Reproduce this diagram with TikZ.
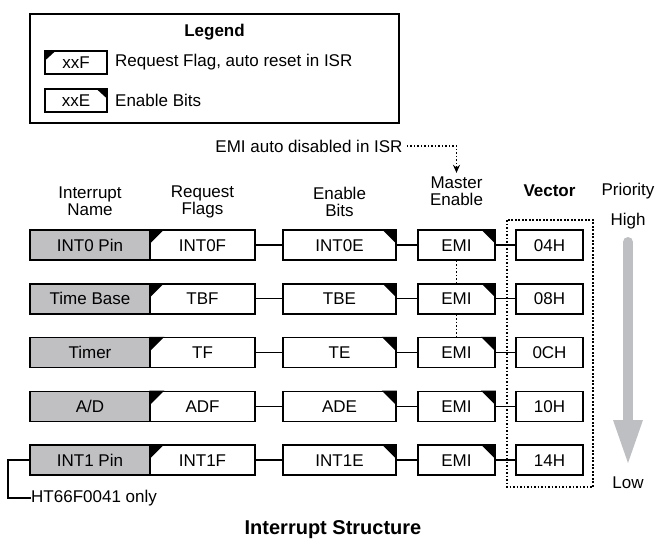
\documentclass[tikz,border=0pt]{standalone}
\usepackage{fontspec}
\setmainfont{Liberation Sans}
\usetikzlibrary{arrows.meta,calc}
\newcommand\fs{\fontsize{17}{17}\selectfont}
\definecolor{namegray}{RGB}{192,192,195}
\definecolor{arrowgray}{RGB}{190,191,194}
\begin{document}
\begin{tikzpicture}[x=1pt,y=-1pt,
  every node/.style={font=\fs, inner sep=0pt},
  box/.style={draw, line width=1.5pt, fill=white, minimum height=30pt, text height=12.2pt, text depth=0pt},
  namebox/.style={box, fill=namegray},
  conn/.style={line width=1.3pt},
  dotline/.style={line width=1.5pt, dash pattern=on 1.6pt off 1.9pt},
  hdr/.style={align=center},
  corner/.style={fill=black}
]
\useasboundingbox (0,0) rectangle (656,541);

% legend
\node[draw, line width=1.6pt, minimum width=369pt, minimum height=109pt] (legend) at (214.5,68.5) {};
\node[font=\fs\bfseries] (legtitle) at (214.5,32) {Legend};
\node[box, minimum width=62pt, minimum height=23pt] (lf) at (76,62.5) {xxF};
\fill[corner] (lf.north west) -- ++(12,0) -- ++(-12,11) -- cycle;
\node[box, minimum width=62pt, minimum height=23pt] (le) at (76,100.5) {xxE};
\fill[corner] (le.north east) -- ++(-12,0) -- ++(12,11) -- cycle;
\node[anchor=west] (lftxt) at (115,62.5) {Request Flag, auto reset in ISR};
\node[anchor=west] (letxt) at (115,100.5) {Enable Bits};

% headers
\node[hdr] (hname) at (90,201.5) {Interrupt\\Name};
\node[hdr] (hreq) at (202.5,201.5) {Request\\Flags};
\node[hdr] (hen) at (339.5,201.5) {Enable\\Bits};
\node[hdr] (hme) at (456.5,191.5) {Master\\Enable};
\node[font=\fs\bfseries] (hvec) at (549.5,191) {Vector};
\node (hpri) at (628,191) {Priority};
\node (high) at (628,221) {High};
\node (low) at (628,483) {Low};

% EMI note
\node (emitxt) at (309,146) {EMI auto disabled in ISR};
\coordinate (emic) at (456.5,146);
\draw[dotline,-{Stealth[length=8pt,width=7pt]}] ([xshift=4pt]emitxt.east) -- (emic) -- ([yshift=4pt]hme.north);

% vector frame
\draw[dotline] (507,220) rectangle (593,487);

% priority arrow
\draw[arrowgray, line width=10pt, line cap=round] (628,242) -- (628,421);
\fill[arrowgray] (613,420) -- (643,420) -- (628,463) -- cycle;

% rows
\foreach \i/\nm/\rq/\en/\vc in {1/INT0 Pin/INT0F/INT0E/04H, 2/Time Base/TBF/TBE/08H, 3/Timer/TF/TE/0CH, 4/{A/D}/ADF/ADE/10H, 5/INT1 Pin/INT1F/INT1E/14H}{
  \pgfmathsetmacro\yy{245+(\i-1)*53.75}
  \node[namebox, minimum width=120pt] (n\i) at (90,\yy) {\nm};
  \node[box, minimum width=105pt] (r\i) at (202.5,\yy) {\rq};
  \node[box, minimum width=113pt] (e\i) at (339.5,\yy) {\en};
  \node[box, minimum width=77pt] (m\i) at (456.5,\yy) {EMI};
  \node[box, minimum width=67pt] (v\i) at (549.5,\yy) {\vc};
  \fill[corner] (r\i.north west) -- ++(15,0) -- ++(-15,15) -- cycle;
  \fill[corner] (e\i.north east) -- ++(-15,0) -- ++(15,15) -- cycle;
  \fill[corner] (m\i.north east) -- ++(-15,0) -- ++(15,15) -- cycle;
  \draw[conn] (r\i) -- (e\i);
  \draw[conn] (e\i) -- (m\i);
  \draw[conn] (m\i) -- (v\i);
}

% EMI dotted links
\draw[dotline] (m1.south) -- (m2.north);
\draw[dotline] (m2.south) -- (m3.north);

% HT66F0041 note
\node[anchor=west] (ht) at (31,498) {HT66F0041 only};
\coordinate (htc) at (8,460);
\draw[conn] (n5.west) -- (htc) |- (ht.west);

% title
\node[font=\fontsize{20}{20}\selectfont\bfseries] (title) at (333,530) {Interrupt Structure};
\end{tikzpicture}
\end{document}
